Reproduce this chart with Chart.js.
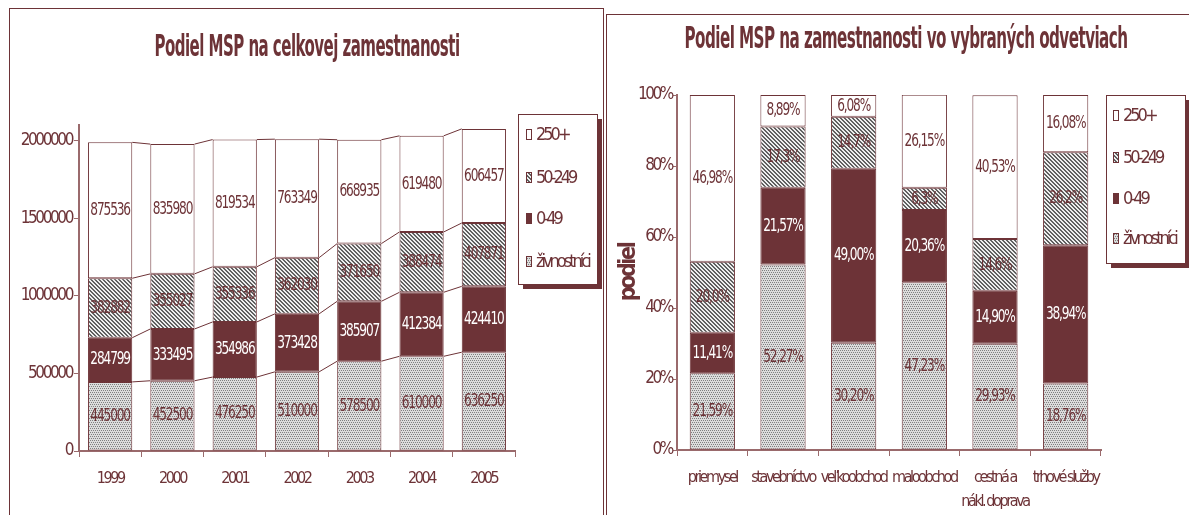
<!DOCTYPE html>
<html>
<head>
<meta charset="utf-8">
<script src="https://cdn.jsdelivr.net/npm/chart.js@4/dist/chart.umd.min.js"></script>
<style>
    html, body { margin: 0; padding: 0; background: #ffffff; }
    body { position: relative; width: 1189px; height: 515px; overflow: hidden; }
    .panel { position: absolute; border: 1.5px solid #6d3337; }
    #panelLeft { left: 9px; top: 8px; width: 593px; height: 540px; }
    #panelRight { left: 606px; top: 14px; width: 600px; height: 540px; }
    canvas { position: absolute; top: 0; }
    #chartLeft { left: 0; }
    #chartRight { left: 607px; }
</style>
</head>
<body>
<div class="panel" id="panelLeft"></div>
<div class="panel" id="panelRight"></div>
<canvas id="chartLeft" width="605" height="515"></canvas>
<canvas id="chartRight" width="582" height="515"></canvas>
<script>
// --- data: employment by enterprise size, 1999-2005 ---
const years = ['1999', '2000', '2001', '2002', '2003', '2004', '2005'];
const zivnostnici = [445000, 452500, 476250, 510000, 578500, 610000, 636250];
const firmy0_49 = [284799, 333495, 354986, 373428, 385907, 412384, 424410];
const firmy50_249 = [382882, 355027, 355336, 362030, 371650, 388474, 407871];
const firmy250 = [875536, 835980, 819534, 763349, 668935, 619480, 606457];
const leftTicks = [0, 500000, 1000000, 1500000, 2000000];

// --- data: share by sector (%) ---
const sectors = ['priemysel', 'stavebníctvo', 'veľkoobchod', 'maloobchod', ['cestná a', 'nákl. doprava'], 'trhové služby'];
const podielZivn = [21.59, 52.27, 30.20, 47.23, 29.93, 18.76];
const podiel0_49 = [11.41, 21.57, 49.00, 20.36, 14.90, 38.94];
const podiel50_249 = [20.0, 17.3, 14.7, 6.3, 14.6, 26.2];
const podiel250 = [46.98, 8.89, 6.08, 26.15, 40.53, 16.08];
const podielDecimals = [2, 2, 1, 2];

const seriesNames = ['živnostníci', '0-49', '50-249', '250+'];

const MAROON = '#6d3337';
const AXIS = '#9a6a6c';
const FONT = '"Liberation Sans Narrow", "DejaVu Sans Condensed", "Arial Narrow", sans-serif';

// small canvas patterns like the old office fills
function makePattern(kind) {
    const c = document.createElement('canvas');
    c.width = 4;
    c.height = 4;
    const g = c.getContext('2d');
    if (kind === 'dots') {
        g.fillStyle = '#dcdcdc';
        g.fillRect(0, 0, 4, 4);
        g.fillStyle = '#808080';
        g.fillRect(0, 0, 1, 1);
        g.fillRect(2, 0, 1, 1);
        g.fillRect(1, 2, 1, 1);
        g.fillRect(3, 2, 1, 1);
    } else {
        g.fillStyle = '#eeeeee';
        g.fillRect(0, 0, 4, 4);
        g.fillStyle = '#606060';
        for (let i = 0; i < 4; i++) {
            g.fillRect(i, i, 1, 1);
            g.fillRect(i, (i + 1) % 4, 1, 1);
        }
    }
    return g.createPattern(c, 'repeat');
}

const fills = [makePattern('dots'), MAROON, makePattern('hatch'), '#ffffff'];

function makeDatasets(series, barPct) {
    return series.map((data, i) => ({
        label: seriesNames[i],
        data: data,
        backgroundColor: fills[i],
        borderColor: MAROON,
        borderWidth: 1,
        borderSkipped: false,
        barPercentage: barPct,
        categoryPercentage: 1
    }));
}

// condensed look for every text drawn by the library
const narrowText = {
    id: 'narrowText',
    beforeUpdate(chart) { chart.ctx.letterSpacing = '-2.4px'; },
    beforeDraw(chart) { chart.ctx.letterSpacing = '-2.4px'; }
};

// lines joining the segment tops of neighbouring bars
const seriesLines = {
    id: 'seriesLines',
    afterDatasetsDraw(chart, args, opts) {
        if (!opts.show) return;
        const ctx = chart.ctx;
        ctx.save();
        ctx.strokeStyle = MAROON;
        ctx.lineWidth = 1;
        chart.data.datasets.forEach((ds, d) => {
            const bars = chart.getDatasetMeta(d).data;
            for (let i = 0; i < bars.length - 1; i++) {
                const a = bars[i], b = bars[i + 1];
                ctx.beginPath();
                ctx.moveTo(a.x + a.width / 2, a.y);
                ctx.lineTo(b.x - b.width / 2, b.y);
                ctx.stroke();
            }
        });
        ctx.restore();
    }
};

// value labels in the middle of each segment, squeezed sideways
const segmentLabels = {
    id: 'segmentLabels',
    afterDatasetsDraw(chart, args, opts) {
        const ctx = chart.ctx;
        chart.data.datasets.forEach((ds, d) => {
            const bars = chart.getDatasetMeta(d).data;
            bars.forEach((bar, i) => {
                ctx.save();
                ctx.font = opts.size + 'px ' + FONT;
                ctx.letterSpacing = '-1.5px';
                ctx.textAlign = 'center';
                ctx.textBaseline = 'middle';
                ctx.fillStyle = d === 1 ? '#ffffff' : MAROON;
                ctx.translate(bar.x, (bar.y + bar.base) / 2);
                ctx.scale(0.75, 1);
                ctx.fillText(opts.format(ds.data[i], d), 0, 0);
                ctx.restore();
            });
        });
    }
};

// title squeezed to the width of the original
const squeezedTitle = {
    id: 'squeezedTitle',
    afterDraw(chart, args, opts) {
        const ctx = chart.ctx;
        ctx.save();
        ctx.font = 'bold ' + opts.size + 'px ' + FONT;
        ctx.letterSpacing = '-1px';
        ctx.fillStyle = MAROON;
        ctx.textAlign = 'center';
        ctx.textBaseline = 'middle';
        const w = ctx.measureText(opts.text).width;
        ctx.translate(opts.x, opts.y);
        ctx.scale(opts.width / w, 1);
        ctx.fillText(opts.text, 0, 0);
        ctx.restore();
    }
};

// boxed legend with a dark drop shadow
const boxLegend = {
    id: 'boxLegend',
    afterDraw(chart, args, opts) {
        const ctx = chart.ctx;
        ctx.save();
        ctx.fillStyle = MAROON;
        ctx.fillRect(opts.x + 5, opts.y + 5, opts.w, opts.h);
        ctx.fillStyle = '#ffffff';
        ctx.fillRect(opts.x, opts.y, opts.w, opts.h);
        ctx.strokeStyle = MAROON;
        ctx.lineWidth = 1;
        ctx.strokeRect(opts.x + 0.5, opts.y + 0.5, opts.w, opts.h);
        ctx.font = '18px ' + FONT;
        ctx.letterSpacing = '-3px';
        ctx.textBaseline = 'middle';
        const ds = chart.data.datasets.slice().reverse();
        ds.forEach((d, i) => {
            const cy = opts.itemY[i];
            ctx.fillStyle = d.backgroundColor;
            ctx.fillRect(opts.swatchX, cy - 5, 6, 11);
            ctx.strokeStyle = MAROON;
            ctx.strokeRect(opts.swatchX + 0.5, cy - 4.5, 5, 10);
            ctx.fillStyle = MAROON;
            ctx.fillText(d.label, opts.textX, cy + 1);
        });
        ctx.restore();
    }
};

function axisTicks(size, padding) {
    return { color: MAROON, font: { family: FONT, size: size, lineHeight: 1.5 }, padding: padding };
}

function initLeftChart() {
    new Chart(document.getElementById('chartLeft'), {
        type: 'bar',
        data: {
            labels: years,
            datasets: makeDatasets([zivnostnici, firmy0_49, firmy50_249, firmy250], 0.71)
        },
        options: {
            responsive: false,
            animation: false,
            layout: { padding: { top: 125, right: 90, left: 0, bottom: 0 } },
            plugins: {
                legend: { display: false },
                tooltip: { enabled: false },
                seriesLines: { show: true },
                segmentLabels: { size: 18, format: v => String(v) },
                squeezedTitle: { text: 'Podiel MSP na celkovej zamestnanosti', x: 307, y: 48, size: 31, width: 305 },
                boxLegend: { x: 518, y: 114, w: 79, h: 170, itemY: [134, 177, 218, 261], swatchX: 526, textX: 536 }
            },
            scales: {
                x: {
                    stacked: true,
                    grid: { offset: true, drawOnChartArea: false, tickLength: 6, color: AXIS },
                    border: { color: AXIS, width: 2 },
                    ticks: axisTicks(16, 10),
                    afterFit: s => { s.height = 64; }
                },
                y: {
                    stacked: true,
                    min: 0,
                    max: 2100000,
                    afterBuildTicks: s => { s.ticks = leftTicks.map(v => ({ value: v })); },
                    grid: { drawOnChartArea: false, tickLength: 5, color: AXIS },
                    border: { color: AXIS, width: 2 },
                    ticks: Object.assign(axisTicks(17, 2), { callback: v => String(v) }),
                    afterFit: s => { s.width = 79; }
                }
            }
        },
        plugins: [narrowText, seriesLines, segmentLabels, squeezedTitle, boxLegend]
    });
}

function initRightChart() {
    new Chart(document.getElementById('chartRight'), {
        type: 'bar',
        data: {
            labels: sectors,
            datasets: makeDatasets([podielZivn, podiel0_49, podiel50_249, podiel250], 0.64)
        },
        options: {
            responsive: false,
            animation: false,
            layout: { padding: { top: 95, right: 88, left: 0, bottom: 0 } },
            plugins: {
                legend: { display: false },
                tooltip: { enabled: false },
                seriesLines: { show: false },
                segmentLabels: {
                    size: 18,
                    format: (v, d) => v.toFixed(podielDecimals[d]).replace('.', ',') + '%'
                },
                squeezedTitle: { text: 'Podiel MSP na zamestnanosti vo vybraných odvetviach', x: 299, y: 40, size: 30, width: 443 },
                boxLegend: { x: 499, y: 95, w: 79, h: 168, itemY: [115, 157, 198, 238], swatchX: 506, textX: 516 }
            },
            scales: {
                x: {
                    stacked: true,
                    grid: { offset: true, drawOnChartArea: false, tickLength: 6, color: AXIS },
                    border: { color: AXIS, width: 2 },
                    ticks: Object.assign(axisTicks(16, 10), { maxRotation: 0, minRotation: 0, autoSkip: false }),
                    afterFit: s => { s.height = 65; }
                },
                y: {
                    stacked: true,
                    min: 0,
                    max: 100,
                    grid: { drawOnChartArea: false, tickLength: 4, color: AXIS },
                    border: { color: AXIS, width: 2 },
                    ticks: Object.assign(axisTicks(17, 1), { stepSize: 20, callback: v => v + '%' }),
                    title: {
                        display: true,
                        text: 'podiel',
                        color: MAROON,
                        font: { family: FONT, size: 23, weight: 'bold' },
                        padding: { top: 8, bottom: 0 }
                    },
                    afterFit: s => { s.width = 70; }
                }
            }
        },
        plugins: [narrowText, seriesLines, segmentLabels, squeezedTitle, boxLegend]
    });
}

document.addEventListener('DOMContentLoaded', function() {
    initLeftChart();
    initRightChart();
});
</script>
</body>
</html>
